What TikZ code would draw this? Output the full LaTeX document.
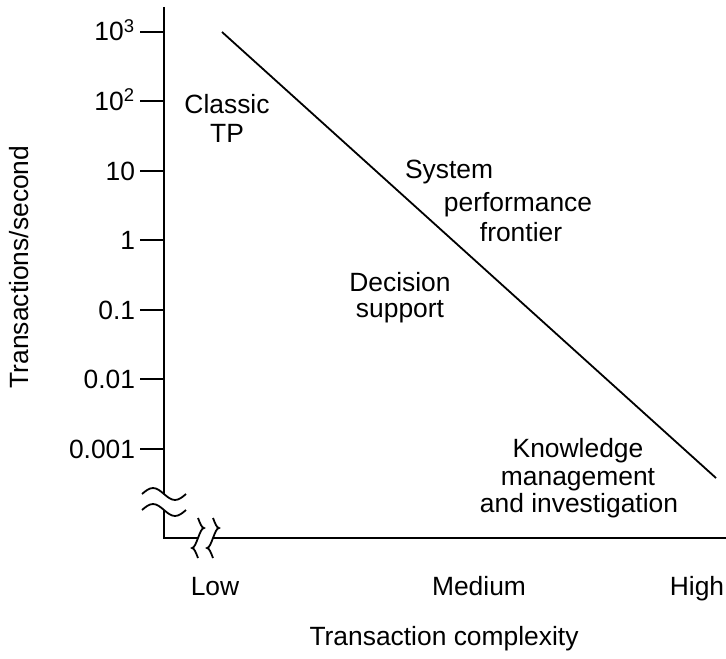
\documentclass[tikz,border=0pt]{standalone}
\usepackage{fontspec}
\setmainfont{Liberation Sans}
\usepackage{tikz}

\begin{document}
\begin{tikzpicture}[x=0.5pt,y=-0.5pt,line width=0.9pt,
    lbl/.style={inner sep=0pt,anchor=base,font=\fontsize{13.2}{16}\selectfont},
    ticklbl/.style={lbl,anchor=base east}]
    \useasboundingbox (0,0) rectangle (726,658);

    % axes
    \coordinate (ytop) at (164,7);
    \coordinate (ybrkA) at (164,494);
    \coordinate (ybrkB) at (164,510);
    \coordinate (orig) at (164,538);
    \coordinate (xbrkA) at (198,538);
    \coordinate (xbrkB) at (213,538);
    \coordinate (xend) at (726,538);
    \draw (ytop) -- (ybrkA);
    \draw (ybrkB) -- (orig) -- (xbrkA);
    \draw (xbrkB) -- (xend);

    % axis breaks
    \draw (142,494) sin ++(11,-6) cos ++(11,6) sin ++(11,6) cos ++(11,-6);
    \draw (142,510) sin ++(11,-6) cos ++(11,6) sin ++(11,6) cos ++(11,-6);
    \draw (198,518) sin ++(6,10) cos ++(-6,10) sin ++(-6,10) cos ++(6,10);
    \draw (213,518) sin ++(6,10) cos ++(-6,10) sin ++(-6,10) cos ++(6,10);

    % ticks
    \draw (140,32) -- (164,32);
    \draw (140,101) -- (164,101);
    \draw (140,171) -- (164,171);
    \draw (140,240) -- (164,240);
    \draw (140,310) -- (164,310);
    \draw (140,379) -- (164,379);
    \draw (140,449) -- (164,449);

    \node[ticklbl] (tthree) at (136,41) {10\textsuperscript{3}};
    \node[ticklbl] (ttwo) at (136,110) {10\textsuperscript{2}};
    \node[ticklbl] (tten) at (136,180) {10};
    \node[ticklbl] (tone) at (136,249) {1};
    \node[ticklbl] (tmone) at (136,319) {0.1};
    \node[ticklbl] (tmtwo) at (136,388) {0.01};
    \node[ticklbl] (tmthree) at (136,458) {0.001};

    % frontier
    \coordinate (frontA) at (222,32);
    \coordinate (frontB) at (716,478);
    \draw (frontA) -- (frontB);

    % regions
    \node[lbl] (classic) at (227,113) {Classic};
    \node[lbl] (tp) at (227,142) {TP};
    \node[lbl] (system) at (449,178) {System};
    \node[lbl] (perf) at (518,211) {performance};
    \node[lbl] (frontier) at (521,241) {frontier};
    \node[lbl] (decision) at (400,291) {Decision};
    \node[lbl] (support) at (400,317) {support};
    \node[lbl] (knowledge) at (578,457) {Knowledge};
    \node[lbl] (mgmt) at (578,485) {management};
    \node[lbl] (invest) at (579,512) {and investigation};

    % axis labels
    \node[lbl] (low) at (215,595) {Low};
    \node[lbl] (medium) at (479,595) {Medium};
    \node[lbl] (high) at (697,595) {High};
    \node[lbl] (xlabel) at (444,645) {Transaction complexity};
    \node[lbl,rotate=90] (ylabel) at (28,267) {Transactions/second};
\end{tikzpicture}
\end{document}
